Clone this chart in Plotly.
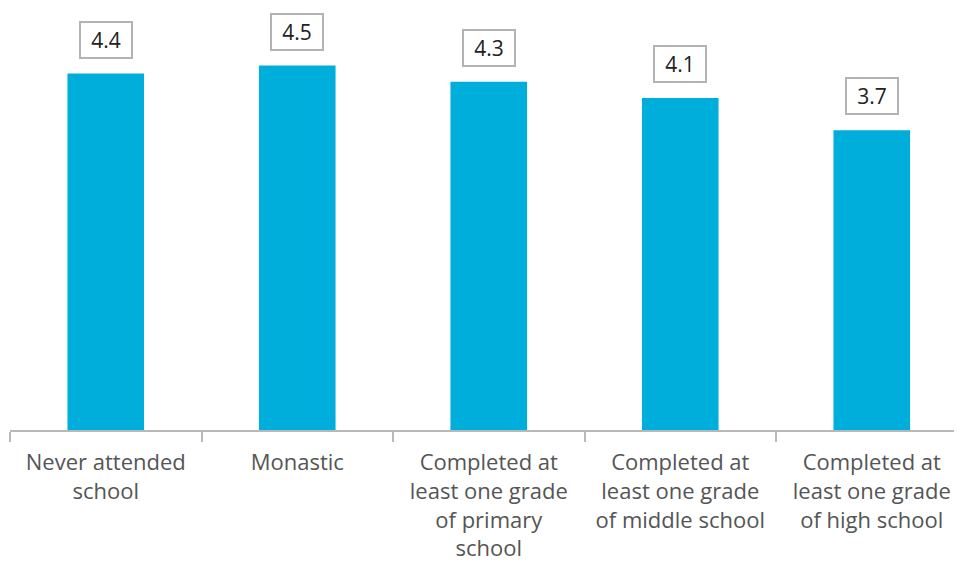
import plotly.graph_objects as go

categories = [
    "Never attended<br>school",
    "Monastic",
    "Completed at<br>least one grade<br>of primary<br>school",
    "Completed at<br>least one grade<br>of middle school",
    "Completed at<br>least one grade<br>of high school",
]
values = [4.4, 4.5, 4.3, 4.1, 3.7]
value_labels = ["4.4", "4.5", "4.3", "4.1", "3.7"]

BAR_COLOR = "#00AEDB"

fig = go.Figure()
fig.add_trace(go.Bar(
    x=categories,
    y=values,
    marker=dict(color=BAR_COLOR, line=dict(width=0)),
    width=0.4,
    hoverinfo="skip",
))

for cat, v, lab in zip(categories, values, value_labels):
    fig.add_annotation(
        x=cat, y=v, text=lab, showarrow=False,
        yanchor="bottom", yshift=15,
        width=40, height=24,
        font=dict(family="Open Sans", size=21, color="#222222"),
        bordercolor="#b3b3b3", borderwidth=2, borderpad=5,
        bgcolor="white",
    )

fig.update_layout(
    width=962, height=565,
    margin=dict(l=2, r=0, t=0, b=143),
    plot_bgcolor="white", paper_bgcolor="white",
    showlegend=False,
    bargap=0.6,
)
fig.update_xaxes(
    range=[-0.5, 4.513],
    showline=True, linecolor="#b8b8b8", linewidth=2,
    ticks="outside", tickson="boundaries", ticklen=10, tickwidth=2, tickcolor="#b8b8b8",
    tickfont=dict(family="Open Sans", size=22, color="#555555"),
    ticklabelstandoff=12,
    showgrid=False, zeroline=False,
)
fig.update_yaxes(
    range=[0, 5.21], visible=False, showgrid=False, zeroline=False,
)

fig.write_html("out.html")
